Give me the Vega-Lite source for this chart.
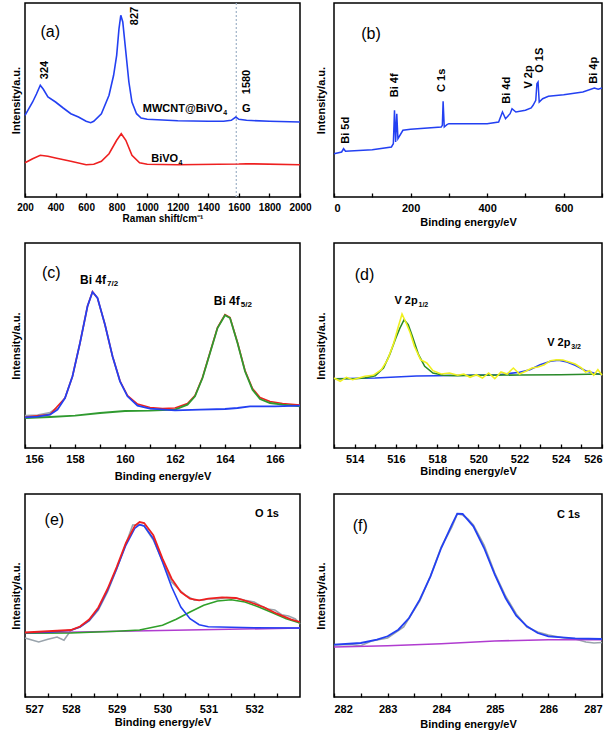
{
  "$schema": "https://vega.github.io/schema/vega-lite/v6.json",
  "padding": {"left": 9, "top": 1, "right": 4, "bottom": 4},
  "background": "#ffffff",
  "config": {
    "font": "Liberation Sans",
    "view": {"stroke": "#000000", "strokeWidth": 1.5},
    "axis": {"domain": false, "grid": false, "labelOverlap": false, "labelFont": "Liberation Sans", "titleFont": "Liberation Sans", "labelFontWeight": "bold", "titleFontWeight": "bold", "labelColor": "#000", "titleColor": "#000", "labelFontSize": 11, "titleFontSize": 11, "tickColor": "#000", "tickWidth": 1.3}
  },
  "datasets": {
    "a": [
      {"x":200,"y":81.7,"s":"blue"},{"x":250,"y":95,"s":"blue"},{"x":275,"y":103,"s":"blue"},{"x":300,"y":111.7,"s":"blue"},{"x":320,"y":107.7,"s":"blue"},{"x":350,"y":100,"s":"blue"},{"x":400,"y":95,"s":"blue"},{"x":450,"y":89,"s":"blue"},{"x":500,"y":83.3,"s":"blue"},{"x":550,"y":80,"s":"blue"},{"x":600,"y":75.7,"s":"blue"},{"x":630,"y":74.3,"s":"blue"},{"x":650,"y":75.7,"s":"blue"},{"x":700,"y":83.3,"s":"blue"},{"x":750,"y":101.7,"s":"blue"},{"x":780,"y":121.7,"s":"blue"},{"x":800,"y":141.7,"s":"blue"},{"x":815,"y":168,"s":"blue"},{"x":827,"y":181.7,"s":"blue"},{"x":840,"y":175,"s":"blue"},{"x":860,"y":145,"s":"blue"},{"x":880,"y":115,"s":"blue"},{"x":900,"y":95,"s":"blue"},{"x":930,"y":83.3,"s":"blue"},{"x":960,"y":79,"s":"blue"},{"x":1000,"y":77.7,"s":"blue"},{"x":1200,"y":76.3,"s":"blue"},{"x":1400,"y":75.7,"s":"blue"},{"x":1500,"y":75.7,"s":"blue"},{"x":1550,"y":76.7,"s":"blue"},{"x":1580,"y":80,"s":"blue"},{"x":1600,"y":77.7,"s":"blue"},{"x":1650,"y":76.7,"s":"blue"},{"x":1800,"y":75.7,"s":"blue"},{"x":2000,"y":75,"s":"blue"},
      {"x":200,"y":34.3,"s":"red"},{"x":250,"y":38.3,"s":"red"},{"x":300,"y":41.7,"s":"red"},{"x":350,"y":40.7,"s":"red"},{"x":400,"y":39,"s":"red"},{"x":500,"y":35.7,"s":"red"},{"x":600,"y":32.3,"s":"red"},{"x":650,"y":32.7,"s":"red"},{"x":700,"y":35.7,"s":"red"},{"x":750,"y":43.3,"s":"red"},{"x":800,"y":56.7,"s":"red"},{"x":830,"y":63.3,"s":"red"},{"x":860,"y":56.7,"s":"red"},{"x":900,"y":41.7,"s":"red"},{"x":950,"y":34.3,"s":"red"},{"x":1000,"y":32.7,"s":"red"},{"x":1200,"y":32.3,"s":"red"},{"x":1600,"y":33,"s":"red"},{"x":1650,"y":33.3,"s":"red"},{"x":2000,"y":32.3,"s":"red"}
    ],
    "ar": [{"x":1583}],
    "at": [
      {"x":365,"y":165,"t":"(a)","k":"big"},
      {"x":923,"y":181,"t":"827","k":"rot"},
      {"x":332,"y":127,"t":"324","k":"rot"},
      {"x":1654,"y":115,"t":"1580","k":"rot"},
      {"x":971,"y":88.3,"t":"MWCNT@BiVO","k":"lab"},
      {"x":1497,"y":84,"t":"4","k":"sub"},
      {"x":1621,"y":87.7,"t":"G","k":"lab"},
      {"x":1026,"y":38.3,"t":"BiVO","k":"lab"},
      {"x":1204,"y":34.3,"t":"4","k":"sub"}
    ],
    "b": [
      {"x":0,"y":43.3},{"x":20,"y":45},{"x":25,"y":48.3},{"x":30,"y":45.7},{"x":100,"y":47.3},{"x":150,"y":50},{"x":155,"y":53.3},{"x":158,"y":86.7},{"x":161,"y":55},{"x":164,"y":83.3},{"x":167,"y":58.3},{"x":180,"y":66.7},{"x":200,"y":67.7},{"x":280,"y":70},{"x":283,"y":71.7},{"x":285,"y":95.7},{"x":288,"y":70},{"x":295,"y":72.3},{"x":300,"y":73.3},{"x":400,"y":73.3},{"x":430,"y":75},{"x":440,"y":85},{"x":448,"y":78.3},{"x":460,"y":83.3},{"x":465,"y":88.3},{"x":475,"y":85},{"x":500,"y":86.7},{"x":515,"y":89},{"x":520,"y":91.7},{"x":527,"y":96.7},{"x":530,"y":113.3},{"x":533,"y":115},{"x":536,"y":95},{"x":545,"y":98.3},{"x":560,"y":100.7},{"x":600,"y":102.3},{"x":650,"y":105},{"x":680,"y":109},{"x":690,"y":107.7},{"x":700,"y":109}
    ],
    "bt": [
      {"x":96.5,"y":163,"t":"(b)","k":"big"},
      {"x":31,"y":66.7,"t":"Bi 5d","k":"rot"},
      {"x":160,"y":111.7,"t":"Bi 4f","k":"rot"},
      {"x":281,"y":116.7,"t":"C 1s","k":"rot"},
      {"x":452,"y":106.7,"t":"Bi 4d","k":"rot"},
      {"x":509,"y":120,"t":"V 2p","k":"rot"},
      {"x":539,"y":136.7,"t":"O 1S","k":"rot"},
      {"x":680,"y":126.7,"t":"Bi 4p","k":"rot"}
    ],
    "c": [
      {"x":156,"y":32,"s":"gray"},{"x":156.5,"y":32.5,"s":"gray"},{"x":157,"y":35,"s":"gray"},{"x":157.3,"y":40,"s":"gray"},
      {"x":156,"y":31,"s":"red"},{"x":157,"y":33.5,"s":"red"},{"x":157.6,"y":50,"s":"red"},{"x":157.9,"y":71.7,"s":"red"},{"x":158.2,"y":105,"s":"red"},{"x":158.5,"y":141.7,"s":"red"},{"x":158.7,"y":156.3,"s":"red"},{"x":158.9,"y":150,"s":"red"},{"x":159.2,"y":123.3,"s":"red"},{"x":159.5,"y":91.7,"s":"red"},{"x":159.8,"y":67,"s":"red"},{"x":160.1,"y":52.5,"s":"red"},{"x":160.5,"y":44,"s":"red"},{"x":161,"y":40.5,"s":"red"},{"x":161.5,"y":39.5,"s":"red"},{"x":162,"y":40,"s":"red"},{"x":162.5,"y":44.5,"s":"red"},{"x":162.8,"y":52.5,"s":"red"},{"x":163.1,"y":70.5,"s":"red"},{"x":163.4,"y":95.5,"s":"red"},{"x":163.7,"y":120.5,"s":"red"},{"x":164,"y":133.3,"s":"red"},{"x":164.2,"y":130.5,"s":"red"},{"x":164.5,"y":105.5,"s":"red"},{"x":164.8,"y":77.5,"s":"red"},{"x":165.1,"y":59.5,"s":"red"},{"x":165.4,"y":50.5,"s":"red"},{"x":165.8,"y":46.5,"s":"red"},{"x":166.3,"y":44.5,"s":"red"},{"x":167,"y":43,"s":"red"},
      {"x":156,"y":30,"s":"green"},{"x":157,"y":31,"s":"green"},{"x":158,"y":32.3,"s":"green"},{"x":159,"y":35,"s":"green"},{"x":160,"y":37,"s":"green"},{"x":161,"y":37.3,"s":"green"},{"x":162,"y":38.3,"s":"green"},{"x":162.5,"y":43.3,"s":"green"},{"x":162.8,"y":51.7,"s":"green"},{"x":163.1,"y":70,"s":"green"},{"x":163.4,"y":95,"s":"green"},{"x":163.7,"y":120,"s":"green"},{"x":164,"y":132.7,"s":"green"},{"x":164.2,"y":130,"s":"green"},{"x":164.5,"y":105,"s":"green"},{"x":164.8,"y":76.7,"s":"green"},{"x":165.1,"y":58.3,"s":"green"},{"x":165.4,"y":49,"s":"green"},{"x":165.8,"y":45,"s":"green"},{"x":166.3,"y":43.3,"s":"green"},{"x":167,"y":41.7,"s":"green"},
      {"x":156,"y":30.7,"s":"blue"},{"x":156.5,"y":31.3,"s":"blue"},{"x":157,"y":33.3,"s":"blue"},{"x":157.3,"y":38.3,"s":"blue"},{"x":157.6,"y":50,"s":"blue"},{"x":157.9,"y":71.7,"s":"blue"},{"x":158.2,"y":105,"s":"blue"},{"x":158.5,"y":141.7,"s":"blue"},{"x":158.7,"y":156,"s":"blue"},{"x":158.9,"y":150,"s":"blue"},{"x":159.2,"y":123.3,"s":"blue"},{"x":159.5,"y":91.7,"s":"blue"},{"x":159.8,"y":66.7,"s":"blue"},{"x":160.1,"y":51.7,"s":"blue"},{"x":160.5,"y":42.3,"s":"blue"},{"x":161,"y":39.3,"s":"blue"},{"x":162,"y":37.7,"s":"blue"},{"x":163,"y":38.3,"s":"blue"},{"x":164,"y":39,"s":"blue"},{"x":164.5,"y":40,"s":"blue"},{"x":165,"y":41.7,"s":"blue"},{"x":166,"y":41.7,"s":"blue"},{"x":167,"y":42.3,"s":"blue"}
    ],
    "ct": [
      {"x":157.05,"y":175,"t":"(c)","k":"big"},
      {"x":158.2,"y":168.3,"t":"Bi 4f","k":"lab"},
      {"x":159.28,"y":164.3,"t":"7/2","k":"sub"},
      {"x":163.55,"y":146.7,"t":"Bi 4f","k":"lab"},
      {"x":164.63,"y":142.7,"t":"5/2","k":"sub"}
    ],
    "d": [
      {"x":513,"y":69.3,"s":"green"},{"x":514,"y":69.3,"s":"green"},{"x":514.5,"y":70,"s":"green"},{"x":515,"y":72.3,"s":"green"},{"x":515.4,"y":80,"s":"green"},{"x":515.7,"y":93.3,"s":"green"},{"x":516,"y":110,"s":"green"},{"x":516.2,"y":120,"s":"green"},{"x":516.4,"y":128.3,"s":"green"},{"x":516.6,"y":123.3,"s":"green"},{"x":516.8,"y":111.7,"s":"green"},{"x":517.1,"y":93.3,"s":"green"},{"x":517.4,"y":81.7,"s":"green"},{"x":517.8,"y":75,"s":"green"},{"x":518.3,"y":72.7,"s":"green"},{"x":519,"y":72.3,"s":"green"},{"x":520,"y":72.7,"s":"green"},{"x":522,"y":73,"s":"green"},{"x":524,"y":73.3,"s":"green"},{"x":526,"y":74,"s":"green"},
      {"x":513,"y":69.3,"s":"blue"},{"x":515,"y":70,"s":"blue"},{"x":516,"y":71,"s":"blue"},{"x":517,"y":72,"s":"blue"},{"x":518,"y":72.3,"s":"blue"},{"x":520,"y":73,"s":"blue"},{"x":521,"y":73.3,"s":"blue"},{"x":522,"y":75.7,"s":"blue"},{"x":522.5,"y":78.3,"s":"blue"},{"x":523,"y":83.3,"s":"blue"},{"x":523.5,"y":86.7,"s":"blue"},{"x":523.9,"y":87.7,"s":"blue"},{"x":524.3,"y":86,"s":"blue"},{"x":524.7,"y":82.7,"s":"blue"},{"x":525.2,"y":77.3,"s":"blue"},{"x":525.6,"y":75,"s":"blue"},{"x":526,"y":73.3,"s":"blue"},
      {"x":513,"y":70,"s":"yel"},{"x":513.3,"y":66.7,"s":"yel"},{"x":513.6,"y":70.7,"s":"yel"},{"x":513.9,"y":68.3,"s":"yel"},{"x":514.2,"y":70,"s":"yel"},{"x":514.5,"y":71.7,"s":"yel"},{"x":514.9,"y":72.7,"s":"yel"},{"x":515.3,"y":78.3,"s":"yel"},{"x":515.6,"y":88.3,"s":"yel"},{"x":515.9,"y":105,"s":"yel"},{"x":516.1,"y":120,"s":"yel"},{"x":516.3,"y":134,"s":"yel"},{"x":516.5,"y":125,"s":"yel"},{"x":516.7,"y":115,"s":"yel"},{"x":516.9,"y":101.7,"s":"yel"},{"x":517.2,"y":88.3,"s":"yel"},{"x":517.5,"y":85,"s":"yel"},{"x":517.8,"y":77.3,"s":"yel"},{"x":518.2,"y":74,"s":"yel"},{"x":518.6,"y":75,"s":"yel"},{"x":519,"y":72.7,"s":"yel"},{"x":519.3,"y":74,"s":"yel"},{"x":519.6,"y":70.7,"s":"yel"},{"x":519.9,"y":73.3,"s":"yel"},{"x":520.2,"y":70,"s":"yel"},{"x":520.5,"y":75,"s":"yel"},{"x":520.8,"y":69.3,"s":"yel"},{"x":521.1,"y":76,"s":"yel"},{"x":521.4,"y":74,"s":"yel"},{"x":521.7,"y":80,"s":"yel"},{"x":522,"y":74,"s":"yel"},{"x":522.3,"y":76.7,"s":"yel"},{"x":522.6,"y":80,"s":"yel"},{"x":522.9,"y":81,"s":"yel"},{"x":523.2,"y":83.3,"s":"yel"},{"x":523.5,"y":87.3,"s":"yel"},{"x":523.8,"y":88.3,"s":"yel"},{"x":524.1,"y":88,"s":"yel"},{"x":524.4,"y":86,"s":"yel"},{"x":524.7,"y":84,"s":"yel"},{"x":525,"y":80,"s":"yel"},{"x":525.2,"y":76,"s":"yel"},{"x":525.4,"y":77.3,"s":"yel"},{"x":525.6,"y":72.7,"s":"yel"},{"x":525.8,"y":78.3,"s":"yel"},{"x":526,"y":72.7,"s":"yel"}
    ],
    "dt": [
      {"x":514.48,"y":173.3,"t":"(d)","k":"big"},
      {"x":515.93,"y":146.7,"t":"V 2p","k":"lab"},
      {"x":517.1,"y":142.7,"t":"1/2","k":"sub"},
      {"x":523.34,"y":105,"t":"V 2p","k":"lab"},
      {"x":524.51,"y":101,"t":"3/2","k":"sub"}
    ],
    "e": [
      {"x":527,"y":59,"s":"gray"},{"x":527.15,"y":57,"s":"gray"},{"x":527.3,"y":55,"s":"gray"},{"x":527.5,"y":57.7,"s":"gray"},{"x":527.7,"y":60,"s":"gray"},{"x":527.85,"y":56.7,"s":"gray"},{"x":528,"y":66.7,"s":"gray"},{"x":528.2,"y":70,"s":"gray"},{"x":528.4,"y":76,"s":"gray"},{"x":528.6,"y":87,"s":"gray"},{"x":528.8,"y":105,"s":"gray"},{"x":529,"y":128,"s":"gray"},{"x":529.2,"y":153,"s":"gray"},{"x":529.35,"y":172,"s":"gray"},{"x":529.5,"y":172.3,"s":"gray"},{"x":529.6,"y":171,"s":"gray"},{"x":529.8,"y":157,"s":"gray"},{"x":530,"y":136,"s":"gray"},{"x":530.2,"y":115,"s":"gray"},{"x":530.35,"y":108,"s":"gray"},{"x":530.5,"y":101.7,"s":"gray"},{"x":530.7,"y":96.7,"s":"gray"},{"x":530.9,"y":97,"s":"gray"},{"x":531,"y":98.3,"s":"gray"},{"x":531.2,"y":98,"s":"gray"},{"x":531.4,"y":99.5,"s":"gray"},{"x":531.6,"y":99,"s":"gray"},{"x":531.8,"y":96.7,"s":"gray"},{"x":532,"y":95,"s":"gray"},{"x":532.15,"y":91,"s":"gray"},{"x":532.3,"y":88,"s":"gray"},{"x":532.45,"y":87,"s":"gray"},{"x":532.6,"y":82.3,"s":"gray"},{"x":532.75,"y":81,"s":"gray"},{"x":532.9,"y":78,"s":"gray"},{"x":533,"y":73,"s":"gray"},
      {"x":527,"y":64,"s":"pur"},{"x":533,"y":69,"s":"pur"},
      {"x":527,"y":63.7,"s":"green"},{"x":528,"y":64,"s":"green"},{"x":529,"y":65.7,"s":"green"},{"x":529.5,"y":67,"s":"green"},{"x":530,"y":71.7,"s":"green"},{"x":530.3,"y":77.7,"s":"green"},{"x":530.6,"y":85,"s":"green"},{"x":530.9,"y":91.7,"s":"green"},{"x":531.2,"y":96,"s":"green"},{"x":531.5,"y":97.3,"s":"green"},{"x":531.8,"y":95,"s":"green"},{"x":532.1,"y":90,"s":"green"},{"x":532.4,"y":84.3,"s":"green"},{"x":532.7,"y":78.3,"s":"green"},{"x":533,"y":74,"s":"green"},
      {"x":527,"y":64.3,"s":"blue"},{"x":527.5,"y":64.7,"s":"blue"},{"x":528,"y":66.7,"s":"blue"},{"x":528.2,"y":70,"s":"blue"},{"x":528.4,"y":76.7,"s":"blue"},{"x":528.6,"y":88.3,"s":"blue"},{"x":528.8,"y":106.7,"s":"blue"},{"x":529,"y":128.3,"s":"blue"},{"x":529.2,"y":151.7,"s":"blue"},{"x":529.4,"y":169,"s":"blue"},{"x":529.5,"y":172.3,"s":"blue"},{"x":529.6,"y":171,"s":"blue"},{"x":529.8,"y":158.3,"s":"blue"},{"x":530,"y":135,"s":"blue"},{"x":530.2,"y":110,"s":"blue"},{"x":530.4,"y":90,"s":"blue"},{"x":530.6,"y":78.3,"s":"blue"},{"x":530.8,"y":72.3,"s":"blue"},{"x":531,"y":70.3,"s":"blue"},{"x":531.5,"y":69.7,"s":"blue"},{"x":532,"y":69.3,"s":"blue"},{"x":533,"y":69,"s":"blue"},
      {"x":527,"y":64.5,"s":"red"},{"x":528,"y":67,"s":"red"},{"x":528.2,"y":70.5,"s":"red"},{"x":528.4,"y":77.5,"s":"red"},{"x":528.6,"y":89.5,"s":"red"},{"x":528.8,"y":108,"s":"red"},{"x":529,"y":130,"s":"red"},{"x":529.2,"y":154,"s":"red"},{"x":529.4,"y":171.5,"s":"red"},{"x":529.5,"y":175,"s":"red"},{"x":529.6,"y":174,"s":"red"},{"x":529.8,"y":161.7,"s":"red"},{"x":530,"y":138.3,"s":"red"},{"x":530.2,"y":118.3,"s":"red"},{"x":530.4,"y":105,"s":"red"},{"x":530.6,"y":98.3,"s":"red"},{"x":530.8,"y":96.7,"s":"red"},{"x":531,"y":98.3,"s":"red"},{"x":531.3,"y":99.7,"s":"red"},{"x":531.6,"y":99,"s":"red"},{"x":531.9,"y":95,"s":"red"},{"x":532.2,"y":90,"s":"red"},{"x":532.5,"y":83.3,"s":"red"},{"x":532.8,"y":77.7,"s":"red"},{"x":533,"y":75,"s":"red"}
    ],
    "et": [
      {"x":527.64,"y":176.7,"t":"(e)","k":"big"},
      {"x":532.02,"y":183.3,"t":"O 1s","k":"lab"}
    ],
    "f": [
      {"x":282,"y":52,"s":"gray"},{"x":282.3,"y":52.5,"s":"gray"},{"x":282.5,"y":51.3,"s":"gray"},{"x":282.7,"y":56,"s":"gray"},{"x":283,"y":59,"s":"gray"},{"x":283.3,"y":70,"s":"gray"},{"x":283.6,"y":96,"s":"gray"},{"x":283.8,"y":121,"s":"gray"},{"x":284,"y":150,"s":"gray"},{"x":284.1,"y":160,"s":"gray"},{"x":284.2,"y":170,"s":"gray"},{"x":284.3,"y":183,"s":"gray"},{"x":284.4,"y":182,"s":"gray"},{"x":284.5,"y":178,"s":"gray"},{"x":284.6,"y":172,"s":"gray"},{"x":284.8,"y":152,"s":"gray"},{"x":285,"y":124,"s":"gray"},{"x":285.2,"y":101,"s":"gray"},{"x":285.4,"y":83,"s":"gray"},{"x":285.6,"y":70,"s":"gray"},{"x":285.8,"y":65,"s":"gray"},{"x":286,"y":62,"s":"gray"},{"x":286.3,"y":59,"s":"gray"},{"x":286.5,"y":58,"s":"gray"},{"x":286.7,"y":55,"s":"gray"},{"x":286.85,"y":54,"s":"gray"},{"x":287,"y":54.5,"s":"gray"},
      {"x":282,"y":50,"s":"pur"},{"x":283,"y":51.3,"s":"pur"},{"x":284,"y":53.3,"s":"pur"},{"x":285,"y":56,"s":"pur"},{"x":286,"y":57.3,"s":"pur"},{"x":287,"y":57.3,"s":"pur"},
      {"x":282,"y":52.3,"s":"blue"},{"x":282.5,"y":54,"s":"blue"},{"x":282.8,"y":57.3,"s":"blue"},{"x":283,"y":60.7,"s":"blue"},{"x":283.2,"y":67.3,"s":"blue"},{"x":283.4,"y":79,"s":"blue"},{"x":283.6,"y":97.3,"s":"blue"},{"x":283.8,"y":120.7,"s":"blue"},{"x":284,"y":149,"s":"blue"},{"x":284.2,"y":172.3,"s":"blue"},{"x":284.3,"y":183.3,"s":"blue"},{"x":284.4,"y":183,"s":"blue"},{"x":284.6,"y":170.7,"s":"blue"},{"x":284.8,"y":149,"s":"blue"},{"x":285,"y":122.3,"s":"blue"},{"x":285.2,"y":99,"s":"blue"},{"x":285.4,"y":81.3,"s":"blue"},{"x":285.6,"y":70.7,"s":"blue"},{"x":285.8,"y":64,"s":"blue"},{"x":286,"y":60.7,"s":"blue"},{"x":286.5,"y":58.7,"s":"blue"},{"x":287,"y":58,"s":"blue"}
    ],
    "ft": [
      {"x":282.49,"y":170.7,"t":"(f)","k":"big"},
      {"x":286.16,"y":182.3,"t":"C 1s","k":"lab"}
    ]
  },
  "columns": 2,
  "spacing": {"row": 46, "column": 34},
  "bounds": "flush",
  "concat": [
    {
      "width": 275, "height": 194,
      "encoding": {
        "x": {"field": "x", "type": "quantitative", "scale": {"domain": [200, 2000], "nice": false, "zero": false}, "axis": {"title": "Raman shift/cm⁻¹", "values": [200,400,600,800,1000,1200,1400,1600,1800,2000], "format": "d", "labelOverlap": false, "labelFlush": false, "offset": -4, "tickSize": 4, "labelPadding": 5, "labelFontSize": 10, "titleFontSize": 10, "titlePadding": 1}}
      },
      "layer": [
        {"data": {"name": "ar"}, "mark": {"type": "rule", "color": "#9fb2c8", "strokeDash": [2, 2], "strokeWidth": 1.2}},
        {
          "encoding": {
            "y": {"field": "y", "type": "quantitative", "scale": {"domain": [0, 194], "nice": false}, "axis": {"title": "Intensity/a.u.", "labels": false, "ticks": false, "titlePadding": 4}}
          },
          "layer": [
            {"data": {"name": "a"}, "transform": [{"filter": "datum.s == 'red'"}], "mark": {"type": "line", "color": "#ee2020", "strokeWidth": 1.6}},
            {"data": {"name": "a"}, "transform": [{"filter": "datum.s == 'blue'"}], "mark": {"type": "line", "color": "#2340f2", "strokeWidth": 1.6}},
            {"data": {"name": "at"}, "transform": [{"filter": "datum.k == 'big'"}], "mark": {"type": "text", "fontSize": 16, "align": "center", "baseline": "middle", "color": "#000"}, "encoding": {"text": {"field": "t"}}},
            {"data": {"name": "at"}, "transform": [{"filter": "datum.k == 'lab'"}], "mark": {"type": "text", "fontSize": 11, "fontWeight": "bold", "align": "left", "baseline": "middle", "color": "#000"}, "encoding": {"text": {"field": "t"}}},
            {"data": {"name": "at"}, "transform": [{"filter": "datum.k == 'sub'"}], "mark": {"type": "text", "fontSize": 7, "fontWeight": "bold", "align": "left", "baseline": "middle", "color": "#000"}, "encoding": {"text": {"field": "t"}}},
            {"data": {"name": "at"}, "transform": [{"filter": "datum.k == 'rot'"}], "mark": {"type": "text", "fontSize": 11, "fontWeight": "bold", "angle": 270, "align": "center", "baseline": "middle", "color": "#000"}, "encoding": {"text": {"field": "t"}}}
          ]
        }
      ]
    },
    {
      "width": 268, "height": 194,
      "encoding": {
        "x": {"field": "x", "type": "quantitative", "scale": {"domain": [0, 700], "nice": false, "zero": false}, "axis": {"title": "Binding energy/eV", "values": [0,100,200,300,400,500,600,700], "labelExpr": "datum.value % 200 == 0 ? datum.label : ''", "labelOverlap": false, "offset": -4, "tickSize": 4, "labelPadding": 5, "titlePadding": 3}},
        "y": {"field": "y", "type": "quantitative", "scale": {"domain": [0, 194], "nice": false}, "axis": {"title": "Intensity/a.u.", "labels": false, "ticks": false, "titlePadding": 8}}
      },
      "layer": [
        {"data": {"name": "b"}, "mark": {"type": "line", "color": "#2340f2", "strokeWidth": 1.5}},
        {"data": {"name": "bt"}, "transform": [{"filter": "datum.k == 'big'"}], "mark": {"type": "text", "fontSize": 16, "align": "center", "baseline": "middle", "color": "#000"}, "encoding": {"text": {"field": "t"}}},
        {"data": {"name": "bt"}, "transform": [{"filter": "datum.k == 'rot'"}], "mark": {"type": "text", "fontSize": 11, "fontWeight": "bold", "angle": 270, "align": "center", "baseline": "middle", "color": "#000"}, "encoding": {"text": {"field": "t"}}}
      ]
    },
    {
      "width": 275, "height": 205,
      "encoding": {
        "x": {"field": "x", "type": "quantitative", "scale": {"domain": [156, 167], "nice": false, "zero": false}, "axis": {"title": "Binding energy/eV", "values": [156,157,158,159,160,161,162,163,164,165,166,167], "labelExpr": "datum.value % 2 == 0 ? datum.label : ''", "labelOverlap": false, "offset": -4, "tickSize": 4, "labelPadding": 5, "titlePadding": 6}},
        "y": {"field": "y", "type": "quantitative", "scale": {"domain": [0, 205], "nice": false}, "axis": {"title": "Intensity/a.u.", "labels": false, "ticks": false, "titlePadding": 4}}
      },
      "layer": [
        {"data": {"name": "c"}, "transform": [{"filter": "datum.s == 'gray'"}], "mark": {"type": "line", "color": "#a0a8b0", "strokeWidth": 2.5}},
        {"data": {"name": "c"}, "transform": [{"filter": "datum.s == 'red'"}], "mark": {"type": "line", "color": "#ee2020", "strokeWidth": 1.6}},
        {"data": {"name": "c"}, "transform": [{"filter": "datum.s == 'green'"}], "mark": {"type": "line", "color": "#2f9a2f", "strokeWidth": 1.8}},
        {"data": {"name": "c"}, "transform": [{"filter": "datum.s == 'blue'"}], "mark": {"type": "line", "color": "#2340f2", "strokeWidth": 1.8}},
        {"data": {"name": "ct"}, "transform": [{"filter": "datum.k == 'big'"}], "mark": {"type": "text", "fontSize": 16, "align": "center", "baseline": "middle", "color": "#000"}, "encoding": {"text": {"field": "t"}}},
        {"data": {"name": "ct"}, "transform": [{"filter": "datum.k == 'lab'"}], "mark": {"type": "text", "fontSize": 12, "fontWeight": "bold", "align": "left", "baseline": "middle", "color": "#000"}, "encoding": {"text": {"field": "t"}}},
        {"data": {"name": "ct"}, "transform": [{"filter": "datum.k == 'sub'"}], "mark": {"type": "text", "fontSize": 8, "fontWeight": "bold", "align": "left", "baseline": "middle", "color": "#000"}, "encoding": {"text": {"field": "t"}}}
      ]
    },
    {
      "width": 268, "height": 205,
      "encoding": {
        "x": {"field": "x", "type": "quantitative", "scale": {"domain": [513, 526], "nice": false, "zero": false}, "axis": {"title": "Binding energy/eV", "values": [513,514,515,516,517,518,519,520,521,522,523,524,525,526], "labelExpr": "datum.value % 2 == 0 ? datum.label : ''", "labelOverlap": false, "offset": -4, "tickSize": 4, "labelPadding": 5, "titlePadding": 1}},
        "y": {"field": "y", "type": "quantitative", "scale": {"domain": [0, 205], "nice": false}, "axis": {"title": "Intensity/a.u.", "labels": false, "ticks": false, "titlePadding": 8}}
      },
      "layer": [
        {"data": {"name": "d"}, "transform": [{"filter": "datum.s == 'blue'"}], "mark": {"type": "line", "color": "#2340f2", "strokeWidth": 1.6}},
        {"data": {"name": "d"}, "transform": [{"filter": "datum.s == 'green'"}], "mark": {"type": "line", "color": "#2a8a2a", "strokeWidth": 1.6}},
        {"data": {"name": "d"}, "transform": [{"filter": "datum.s == 'yel'"}], "mark": {"type": "line", "color": "#f0f020", "strokeWidth": 1.6}},
        {"data": {"name": "dt"}, "transform": [{"filter": "datum.k == 'big'"}], "mark": {"type": "text", "fontSize": 16, "align": "center", "baseline": "middle", "color": "#000"}, "encoding": {"text": {"field": "t"}}},
        {"data": {"name": "dt"}, "transform": [{"filter": "datum.k == 'lab'"}], "mark": {"type": "text", "fontSize": 11, "fontWeight": "bold", "align": "left", "baseline": "middle", "color": "#000"}, "encoding": {"text": {"field": "t"}}},
        {"data": {"name": "dt"}, "transform": [{"filter": "datum.k == 'sub'"}], "mark": {"type": "text", "fontSize": 7, "fontWeight": "bold", "align": "left", "baseline": "middle", "color": "#000"}, "encoding": {"text": {"field": "t"}}}
      ]
    },
    {
      "width": 275, "height": 203,
      "encoding": {
        "x": {"field": "x", "type": "quantitative", "scale": {"domain": [527, 533], "nice": false, "zero": false}, "axis": {"title": "Binding energy/eV", "values": [527,527.5,528,528.5,529,529.5,530,530.5,531,531.5,532,532.5], "labelExpr": "datum.value % 1 == 0 ? format(datum.value, 'd') : ''", "labelOverlap": false, "offset": -4, "tickSize": 4, "labelPadding": 6, "titlePadding": 2}},
        "y": {"field": "y", "type": "quantitative", "scale": {"domain": [0, 203], "nice": false}, "axis": {"title": "Intensity/a.u.", "labels": false, "ticks": false, "titlePadding": 4}}
      },
      "layer": [
        {"data": {"name": "e"}, "transform": [{"filter": "datum.s == 'gray'"}], "mark": {"type": "line", "color": "#9aa4ac", "strokeWidth": 1.6}},
        {"data": {"name": "e"}, "transform": [{"filter": "datum.s == 'pur'"}], "mark": {"type": "line", "color": "#b03cd0", "strokeWidth": 1.6}},
        {"data": {"name": "e"}, "transform": [{"filter": "datum.s == 'green'"}], "mark": {"type": "line", "color": "#30a02a", "strokeWidth": 1.6}},
        {"data": {"name": "e"}, "transform": [{"filter": "datum.s == 'blue'"}], "mark": {"type": "line", "color": "#2340f2", "strokeWidth": 1.6}},
        {"data": {"name": "e"}, "transform": [{"filter": "datum.s == 'red'"}], "mark": {"type": "line", "color": "#ee2020", "strokeWidth": 1.8}},
        {"data": {"name": "et"}, "transform": [{"filter": "datum.k == 'big'"}], "mark": {"type": "text", "fontSize": 16, "align": "center", "baseline": "middle", "color": "#000"}, "encoding": {"text": {"field": "t"}}},
        {"data": {"name": "et"}, "transform": [{"filter": "datum.k == 'lab'"}], "mark": {"type": "text", "fontSize": 11, "fontWeight": "bold", "align": "left", "baseline": "middle", "color": "#000"}, "encoding": {"text": {"field": "t"}}}
      ]
    },
    {
      "width": 268, "height": 203,
      "encoding": {
        "x": {"field": "x", "type": "quantitative", "scale": {"domain": [282, 287], "nice": false, "zero": false}, "axis": {"title": "Binding energy/eV", "values": [282,282.5,283,283.5,284,284.5,285,285.5,286,286.5,287], "labelExpr": "datum.value % 1 == 0 ? format(datum.value, 'd') : ''", "labelOverlap": false, "offset": -4, "tickSize": 4, "labelPadding": 6, "titlePadding": 4}},
        "y": {"field": "y", "type": "quantitative", "scale": {"domain": [0, 203], "nice": false}, "axis": {"title": "Intensity/a.u.", "labels": false, "ticks": false, "titlePadding": 8}}
      },
      "layer": [
        {"data": {"name": "f"}, "transform": [{"filter": "datum.s == 'gray'"}], "mark": {"type": "line", "color": "#9aa4ac", "strokeWidth": 1.6}},
        {"data": {"name": "f"}, "transform": [{"filter": "datum.s == 'pur'"}], "mark": {"type": "line", "color": "#b03cd0", "strokeWidth": 1.6}},
        {"data": {"name": "f"}, "transform": [{"filter": "datum.s == 'blue'"}], "mark": {"type": "line", "color": "#2340f2", "strokeWidth": 1.8}},
        {"data": {"name": "ft"}, "transform": [{"filter": "datum.k == 'big'"}], "mark": {"type": "text", "fontSize": 16, "align": "center", "baseline": "middle", "color": "#000"}, "encoding": {"text": {"field": "t"}}},
        {"data": {"name": "ft"}, "transform": [{"filter": "datum.k == 'lab'"}], "mark": {"type": "text", "fontSize": 11, "fontWeight": "bold", "align": "left", "baseline": "middle", "color": "#000"}, "encoding": {"text": {"field": "t"}}}
      ]
    }
  ]
}
